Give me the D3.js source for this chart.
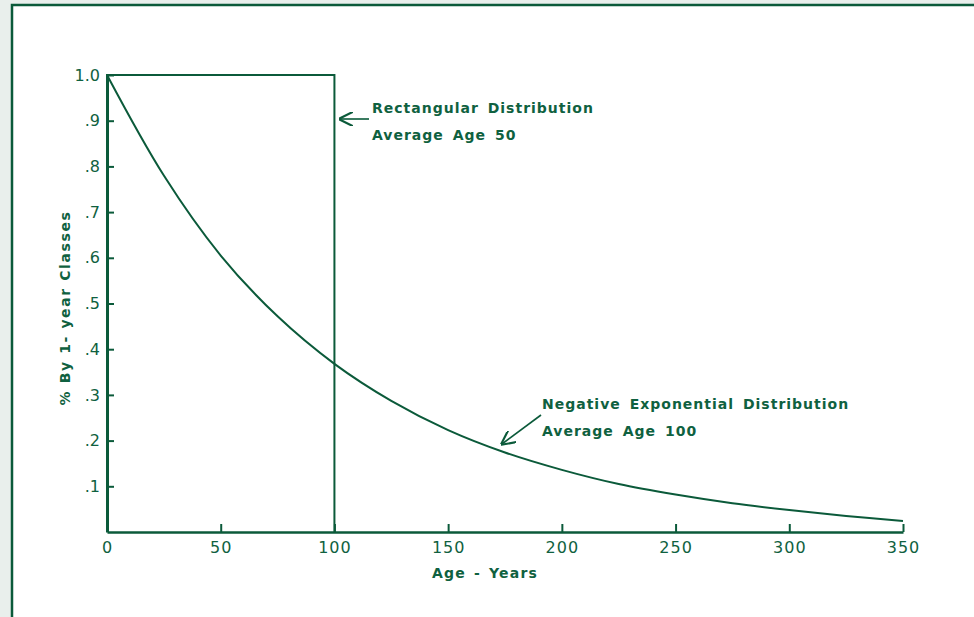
<!DOCTYPE html>
<html>
<head>
<meta charset="utf-8">
<script src="https://cdn.jsdelivr.net/npm/d3@7"></script>
<style>
body { margin: 0; background: #e9efec; }
text { font-family: "DejaVu Sans", sans-serif; fill: #0f6140; }
</style>
</head>
<body>
<script>
// values
var expAges = [0, 25, 50, 75, 100, 125, 150, 175, 200, 225, 250, 275, 300, 325, 350]
var expValues = [1.0, 0.78, 0.605, 0.472, 0.368, 0.287, 0.223, 0.174, 0.136, 0.105, 0.082, 0.063, 0.048, 0.035, 0.024]
var rectAges = [0, 0, 100, 100]
var rectValues = [0, 1, 1, 0]
var xTicks = [0, 50, 100, 150, 200, 250, 300, 350]
var yTicks = [0.1, 0.2, 0.3, 0.4, 0.5, 0.6, 0.7, 0.8, 0.9, 1.0]
var yTickLabels = [".1", ".2", ".3", ".4", ".5", ".6", ".7", ".8", ".9", "1.0"]

var green = "#0b5a3a"

var svg = d3.select("body")
      .append("svg")
      .attr("width", 974)
      .attr("height", 617)

svg.append("rect")
  .attr("x", 12).attr("y", 5)
  .attr("width", 980).attr("height", 640)
  .attr("fill", "white")
  .attr("stroke", green)
  .attr("stroke-width", 2.5)

var x = d3.scaleLinear().domain([0, 350]).range([107, 903])
var y = d3.scaleLinear().domain([0, 1]).range([532, 75])

// x axis
var xAxis = svg.append("g")
  .attr("transform", "translate(0," + y(0) + ")")
  .call(d3.axisBottom(x).tickValues(xTicks).tickSizeInner(-8).tickSizeOuter(0).tickPadding(10))
xAxis.select(".domain").attr("stroke", green).attr("stroke-width", 2.5)
xAxis.selectAll(".tick line").attr("stroke", green).attr("stroke-width", 2)
xAxis.selectAll(".tick text")
  .attr("font-size", 16)
  .attr("letter-spacing", 1)
  .style("font-family", "DejaVu Sans, sans-serif")
  .attr("fill", "#0f6140")

// y axis
var yAxis = svg.append("g")
  .attr("transform", "translate(" + x(0) + ",0)")
  .call(d3.axisLeft(y).tickValues(yTicks).tickSizeInner(-7).tickSizeOuter(0).tickPadding(7)
    .tickFormat(function(d, i) { return yTickLabels[i] }))
yAxis.select(".domain").attr("stroke", green).attr("stroke-width", 3)
yAxis.selectAll(".tick line").attr("stroke", green).attr("stroke-width", 2)
yAxis.selectAll(".tick text")
  .attr("font-size", 16)
  .style("font-family", "DejaVu Sans, sans-serif")
  .attr("fill", "#0f6140")

var line = d3.line()
  .x(function(d) { return x(d[0]) })
  .y(function(d) { return y(d[1]) })

svg.append("path")
  .datum(rectAges.map(function(a, i) { return [a, rectValues[i]] }))
  .attr("d", line)
  .attr("fill", "none")
  .attr("stroke", green)
  .attr("stroke-width", 2)

svg.append("path")
  .datum(expAges.map(function(a, i) { return [a, expValues[i]] }))
  .attr("d", line.curve(d3.curveCatmullRom))
  .attr("fill", "none")
  .attr("stroke", green)
  .attr("stroke-width", 2)

// labels
svg.append("text")
  .text("Age - Years")
  .attr("x", 485).attr("y", 578)
  .attr("text-anchor", "middle")
  .attr("font-size", 14)
  .attr("font-weight", "bold")
  .attr("letter-spacing", 1.2)
  .attr("word-spacing", 2)

svg.append("text")
  .text("% By 1- year Classes")
  .attr("transform", "translate(70,308) rotate(-90)")
  .attr("text-anchor", "middle")
  .attr("font-size", 14)
  .attr("font-weight", "bold")
  .attr("letter-spacing", 1.6)

var notes = [
  {t: "Rectangular Distribution", x: 372, y: 113},
  {t: "Average Age 50", x: 372, y: 140},
  {t: "Negative Exponential Distribution", x: 542, y: 409},
  {t: "Average Age 100", x: 542, y: 436}
]
svg.selectAll(".note")
  .data(notes).enter()
  .append("text")
  .attr("class", "note")
  .text(function(d) { return d.t })
  .attr("x", function(d) { return d.x })
  .attr("y", function(d) { return d.y })
  .attr("font-size", 14)
  .attr("font-weight", "bold")
  .attr("letter-spacing", 1.0)
  .attr("word-spacing", 3)

svg.append("defs").append("marker")
  .attr("id", "head")
  .attr("viewBox", "0 0 10 10")
  .attr("refX", 9).attr("refY", 5)
  .attr("markerWidth", 9).attr("markerHeight", 9)
  .attr("orient", "auto")
  .append("path")
  .attr("d", "M0,0 L10,5 L0,10")
  .attr("fill", "none")
  .attr("stroke", green)
  .attr("stroke-width", 1.5)

var arrows = [[369, 119, 340, 119], [541, 415, 502, 444]]
svg.selectAll(".arrow")
  .data(arrows).enter()
  .append("line")
  .attr("x1", function(d) { return d[0] })
  .attr("y1", function(d) { return d[1] })
  .attr("x2", function(d) { return d[2] })
  .attr("y2", function(d) { return d[3] })
  .attr("stroke", green)
  .attr("stroke-width", 1.6)
  .attr("marker-end", "url(#head)")
</script>
</body>
</html>
